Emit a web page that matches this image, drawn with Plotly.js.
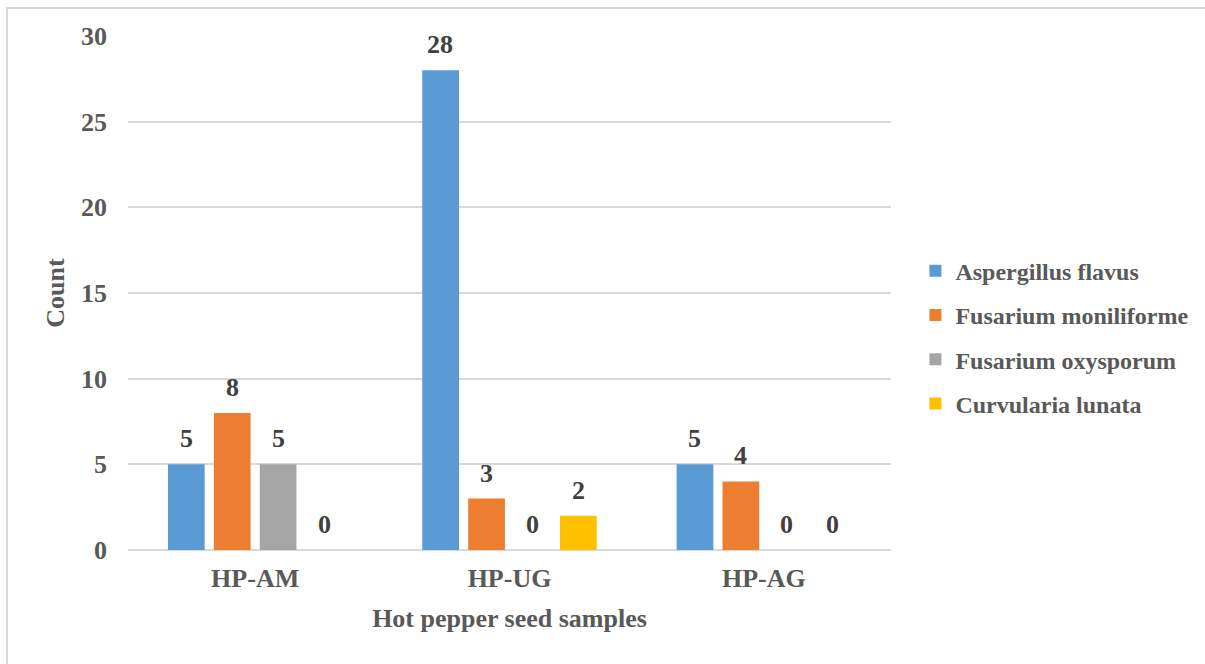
<!DOCTYPE html>
<html>
<head>
<meta charset="utf-8">
<script src="https://cdn.plot.ly/plotly-3.0.1.min.js"></script>
<style>
  html, body { margin: 0; padding: 0; background: #ffffff; }
  #wrap { position: relative; width: 1205px; height: 664px; overflow: hidden; }
  #chart { position: absolute; left: 0; top: 0; width: 1205px; height: 664px; }
  #frame { position: absolute; left: 6px; top: 7px; width: 1300px; height: 800px;
           border-left: 2px solid #d9d9d9; border-top: 2px solid #d9d9d9; pointer-events: none; }
</style>
</head>
<body>
<div id="wrap">
  <div id="chart"></div>
  <div id="frame"></div>
</div>
<script>
// Fungal isolates counted per hot pepper seed sample
const samples = ['HP-AM', 'HP-UG', 'HP-AG'];
const seriesNames = ['Aspergillus flavus', 'Fusarium moniliforme', 'Fusarium oxysporum', 'Curvularia lunata'];
const aspergillusFlavus = [5, 28, 5];
const fusariumMoniliforme = [8, 3, 4];
const fusariumOxysporum = [5, 0, 0];
const curvulariaLunata = [0, 2, 0];
const yTicks = [0, 5, 10, 15, 20, 25, 30];

const seriesValues = [aspergillusFlavus, fusariumMoniliforme, fusariumOxysporum, curvulariaLunata];
const seriesColors = ['#5b9bd5', '#ed7d31', '#a5a5a5', '#ffc000'];

const FONT = '"Liberation Serif", "Times New Roman", Times, serif';
const GREY = '#595959';
const W = 1205, H = 664;
const M = { l: 128, r: 312, t: 36, b: 114 };
const BARGAP = 0.278, GROUPGAP = 0.2;

const traces = seriesValues.map((vals, j) => ({
  type: 'bar',
  name: seriesNames[j],
  x: samples,
  y: vals,
  legendgroup: 'g' + j,
  marker: { color: seriesColors[j], line: { width: 0 } },
  hoverinfo: 'x+y+name'
}));

// value labels above each bar, shifted sideways to its slot in the group
const plotW = W - M.l - M.r;
const slot = plotW / samples.length * (1 - BARGAP) / seriesValues.length;
const annotations = [];
seriesValues.forEach((vals, j) => {
  vals.forEach((v, i) => {
    annotations.push({
      x: samples[i], y: v, xref: 'x', yref: 'y',
      text: String(v), showarrow: false,
      xanchor: 'center', yanchor: 'bottom',
      xshift: (j - (seriesValues.length - 1) / 2) * slot,
      yshift: 9,
      font: { family: FONT, size: 26, color: '#404040', weight: 700 }
    });
  });
});

const layout = {
  width: W, height: H,
  margin: M,
  paper_bgcolor: '#ffffff', plot_bgcolor: '#ffffff',
  font: { family: FONT, color: GREY, weight: 700 },
  barmode: 'group',
  bargap: BARGAP,
  bargroupgap: GROUPGAP,
  showlegend: true,
  legend: {
    x: 1.032, xanchor: 'left', y: 0.414, yanchor: 'middle',
    font: { family: FONT, size: 24, color: GREY, weight: 700 },
    tracegroupgap: 10,
    itemwidth: 30,
    bgcolor: 'rgba(0,0,0,0)'
  },
  xaxis: {
    type: 'category',
    showgrid: false, showline: false, zeroline: false, ticks: '',
    ticklabelstandoff: 10,
    tickfont: { family: FONT, size: 26, color: GREY, weight: 700 },
    title: { text: 'Hot pepper seed samples', standoff: 16,
             font: { family: FONT, size: 26, color: GREY, weight: 700 } },
    automargin: true
  },
  yaxis: {
    range: [0, 30],
    tickvals: yTicks,
    showgrid: true, gridcolor: '#d9d9d9', gridwidth: 2,
    zeroline: true, zerolinecolor: '#d9d9d9', zerolinewidth: 2,
    showline: false, ticks: '',
    ticklabelstandoff: 20,
    tickfont: { family: FONT, size: 26, color: GREY, weight: 700 },
    title: { text: 'Count', standoff: 8,
             font: { family: FONT, size: 26, color: GREY, weight: 700 } },
    automargin: true
  },
  annotations: annotations
};

Plotly.newPlot('chart', traces, layout, { displayModeBar: false, staticPlot: true });
</script>
</body>
</html>
